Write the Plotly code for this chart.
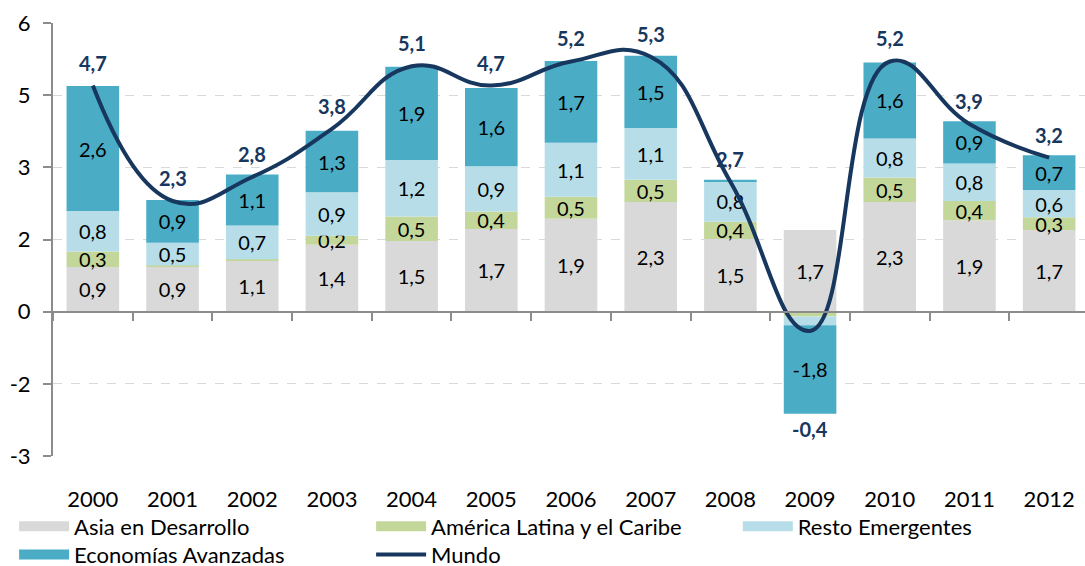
import plotly.graph_objects as go

years = ["2000", "2001", "2002", "2003", "2004", "2005", "2006",
         "2007", "2008", "2009", "2010", "2011", "2012"]
asia = [0.93, 0.93, 1.07, 1.39, 1.47, 1.72, 1.93, 2.28, 1.51, 1.70, 2.28, 1.90, 1.70]
america = [0.32, 0.03, 0.02, 0.19, 0.51, 0.36, 0.46, 0.46, 0.36, -0.10, 0.51, 0.40, 0.26]
resto = [0.84, 0.47, 0.70, 0.90, 1.17, 0.94, 1.12, 1.08, 0.84, -0.18, 0.81, 0.78, 0.57]
avanzadas = [2.60, 0.89, 1.06, 1.28, 1.94, 1.63, 1.70, 1.50, 0.03, -1.84, 1.58, 0.88, 0.72]
mundo = [4.7, 2.3, 2.8, 3.8, 5.1, 4.7, 5.2, 5.3, 2.7, -0.4, 5.2, 3.9, 3.2]

# y axis in the source uses a 1.5 step with labels rounded to integers
y_ticks = [-3, -1.5, 0, 1.5, 3, 4.5, 6]
y_labels = ["-3", "-2", "0", "2", "3", "5", "6"]

FONT = "Lato"
NAVY = "#17375E"


def fmt(v):
    return f"{v:.1f}".replace(".", ",")


def seg_text(vals):
    # the source leaves thin segments unlabelled
    return [fmt(v) if abs(v) >= 0.19 else "" for v in vals]


# name, values, colour, legend block
series = [
    ("Asia en Desarrollo", asia, "#D9D9D9", "legend"),
    ("América Latina y el Caribe", america, "#C4D79B", "legend"),
    ("Resto Emergentes", resto, "#B7DEE8", "legend3"),
    ("Economías Avanzadas", avanzadas, "#4BACC6", "legend2"),
]

fig = go.Figure()
for name, vals, color, leg in series:
    fig.add_trace(go.Bar(
        x=years, y=vals, name=name, showlegend=False,
        marker=dict(color=color, line=dict(width=0)),
        text=seg_text(vals), textposition="inside", insidetextanchor="middle",
        textangle=0, constraintext="none",
        textfont=dict(family=FONT, size=20, color="black"),
        hoverinfo="skip",
    ))
    # wide flat swatch for the legend, like the source
    fig.add_trace(go.Scatter(
        x=[None], y=[None], name=name, mode="lines", legend=leg,
        line=dict(color=color, width=14), hoverinfo="skip",
    ))

fig.add_trace(go.Scatter(
    x=years, y=mundo, name="Mundo", mode="lines", legend="legend2",
    line=dict(color=NAVY, width=4, shape="spline", smoothing=1.3),
    xaxis="x2", hoverinfo="skip",
))

# Mundo labels above the line points; the negative year goes under its bar
neg_bottom = [sum(v for v in (a, b, c, d) if v < 0)
              for a, b, c, d in zip(asia, america, resto, avanzadas)]
for i, (m, nb) in enumerate(zip(mundo, neg_bottom)):
    if m < 0:
        fig.add_annotation(x=i, y=nb, text=f"<b>{fmt(m)}</b>", showarrow=False,
                           yanchor="top", yshift=-1,
                           font=dict(family=FONT, size=20, color=NAVY))
    else:
        fig.add_annotation(x=i, y=m, text=f"<b>{fmt(m)}</b>", showarrow=False,
                           yanchor="middle", yshift=23,
                           font=dict(family=FONT, size=20, color=NAVY))

legend_style = dict(
    orientation="h", xref="container", yref="container",
    xanchor="left", yanchor="top",
    entrywidth=292, entrywidthmode="pixels",
    font=dict(family=FONT, size=22, color="black"),
    itemwidth=50, traceorder="normal", bgcolor="rgba(0,0,0,0)",
)

fig.update_layout(
    width=1085, height=566,
    margin=dict(l=53, r=0, t=23, b=110),
    paper_bgcolor="white", plot_bgcolor="white",
    barmode="relative", bargap=0.34,
    font=dict(family=FONT, size=20, color="black"),
    xaxis=dict(
        type="category", categoryarray=years, range=[-0.5, 12.45],
        showline=False, showgrid=False, ticks="", zeroline=False,
        tickfont=dict(family=FONT, size=22, color="black"),
        ticklabelstandoff=28, automargin=False,
    ),
    xaxis2=dict(
        type="category", categoryarray=years, range=[-0.5, 12.45],
        overlaying="x", anchor="free", position=1 / 3,
        showline=True, linecolor="#8C8C8C", linewidth=2,
        ticks="outside", tickson="boundaries", ticklen=8,
        tickcolor="#8C8C8C", tickwidth=2,
        showticklabels=False, showgrid=False, zeroline=False,
    ),
    yaxis=dict(
        range=[-3, 6], tickvals=y_ticks, ticktext=y_labels,
        showline=True, linecolor="#8C8C8C", linewidth=2,
        ticks="outside", ticklen=8, tickcolor="#8C8C8C", tickwidth=2,
        showgrid=True, gridcolor="#D9D9D9", griddash="dash", gridwidth=1,
        zeroline=False,
        tickfont=dict(family=FONT, size=22, color="black"),
        ticklabelstandoff=8, automargin=False,
    ),
    showlegend=True,
    legend=dict(legend_style, x=0.013, y=0.107),
    legend2=dict(legend_style, x=0.013, y=0.057),
    legend3=dict(legend_style, x=0.68, y=0.107),
)

fig.write_html("out.html", config={"displayModeBar": False},
               post_script="document.body.style.margin = '0';")
